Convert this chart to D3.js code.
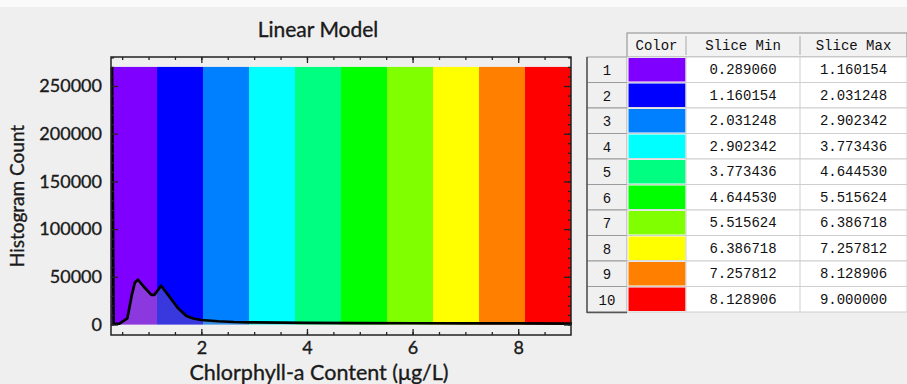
<!DOCTYPE html>
<html>
<head>
<meta charset="utf-8">
<script src="https://cdn.jsdelivr.net/npm/d3@7"></script>
<style>
  body { margin: 0; background: #efefef; }
  svg { display: block; }
  .lbl { font-family: Lato, "Open Sans", sans-serif; fill: #1a1a1a; stroke: #1a1a1a; stroke-width: 0.35; }
  .tbl { font-family: "Liberation Mono", "DejaVu Sans Mono", monospace; font-size: 14px; fill: #111; }
</style>
</head>
<body>
<div id="chart"></div>
<script>
// colour slices (linear model)
var sliceColors = ["#8000ff", "#0000ff", "#0080ff", "#00ffff", "#00ff80",
                   "#00ff00", "#80ff00", "#ffff00", "#ff8000", "#ff0000"];
var sliceMin = [0.289060, 1.160154, 2.031248, 2.902342, 3.773436,
                4.644530, 5.515624, 6.386718, 7.257812, 8.128906];
var sliceMax = [1.160154, 2.031248, 2.902342, 3.773436, 4.644530,
                5.515624, 6.386718, 7.257812, 8.128906, 9.000000];

// histogram curve
var histX = [0.289, 0.32, 0.43, 0.58, 0.66, 0.72, 0.78, 0.91, 1.035, 1.09,
             1.22, 1.38, 1.54, 1.70, 1.83, 1.98, 2.3, 2.6, 2.9, 3.5,
             4.0, 5.0, 6.0, 7.0, 8.0, 9.0];
var histCount = [270000, 500, 1000, 6500, 30000, 43700, 47000, 38500, 31000, 31000,
                 40600, 29000, 17000, 8900, 6300, 4700, 3400, 2600, 2200, 1900,
                 1800, 1500, 1300, 1200, 1100, 1000];

var yMajor = [0, 50000, 100000, 150000, 200000, 250000];
var xMajor = [2, 4, 6, 8];
var bandTop = 270000;

var W = 907, H = 384;
var margin = {top: 57, right: 336, bottom: 49, left: 111},
    width = W - margin.left - margin.right,
    height = H - margin.top - margin.bottom;

var svg = d3.select("#chart").append("svg")
    .attr("width", W)
    .attr("height", H);

svg.append("rect").attr("width", W).attr("height", H).attr("fill", "#efefef");
svg.append("rect").attr("width", W).attr("height", 7).attr("fill", "#fafafa");

var g = svg.append("g")
    .attr("transform", "translate(" + margin.left + "," + margin.top + ")");

var x = d3.scaleLinear().domain([0.28906, 9]).range([0, width]);
var y = d3.scaleLinear().domain([-11000, 280400]).range([height, 0]);

// colour bands
g.selectAll("rect.band")
    .data(sliceColors)
    .enter().append("rect")
    .attr("class", "band")
    .attr("x", function(d, i) { return x(sliceMin[i]); })
    .attr("width", function(d, i) { return x(sliceMax[i]) - x(sliceMin[i]); })
    .attr("y", y(bandTop))
    .attr("height", y(0) - y(bandTop))
    .attr("fill", function(d) { return d; });

var pts = histX.map(function(d, i) { return [d, histCount[i]]; });

g.append("path")
    .datum(pts)
    .attr("fill", "rgba(160,160,160,0.35)")
    .attr("d", d3.area()
        .x(function(d) { return x(d[0]); })
        .y0(y(0))
        .y1(function(d) { return y(d[1]); }));

g.append("path")
    .datum(pts)
    .attr("fill", "none")
    .attr("stroke", "#000")
    .attr("stroke-width", 2.7)
    .attr("stroke-linejoin", "round")
    .attr("d", d3.line()
        .x(function(d) { return x(d[0]) + 1; })
        .y(function(d) { return y(d[1]); }));

// axes with inward ticks
var xMinor = d3.range(0.5, 9, 0.5);
var yMinor = d3.range(0, 280001, 10000);

function noDomain(sel) { sel.select(".domain").remove(); }

g.append("g").attr("transform", "translate(0," + height + ")")
    .call(d3.axisBottom(x).tickValues(xMinor).tickSize(-3).tickFormat(""))
    .call(noDomain);
g.append("g").attr("transform", "translate(0," + height + ")")
    .attr("class", "lbl")
    .call(d3.axisBottom(x).tickValues(xMajor).tickSize(-6).tickPadding(6).tickFormat(d3.format("d")))
    .call(noDomain);
g.append("g")
    .call(d3.axisTop(x).tickValues(xMinor).tickSize(-3).tickFormat(""))
    .call(noDomain);
g.append("g")
    .call(d3.axisTop(x).tickValues(xMajor).tickSize(-6).tickFormat(""))
    .call(noDomain);

g.append("g")
    .call(d3.axisLeft(y).tickValues(yMinor).tickSize(-3).tickFormat(""))
    .call(noDomain);
g.append("g")
    .attr("class", "lbl")
    .call(d3.axisLeft(y).tickValues(yMajor).tickSize(-7).tickPadding(9).tickFormat(d3.format("d")))
    .call(noDomain);
g.append("g").attr("transform", "translate(" + width + ",0)")
    .call(d3.axisRight(y).tickValues(yMinor).tickSize(-3).tickFormat(""))
    .call(noDomain);
g.append("g").attr("transform", "translate(" + width + ",0)")
    .call(d3.axisRight(y).tickValues(yMajor).tickSize(-7).tickFormat(""))
    .call(noDomain);

g.selectAll(".tick line").attr("stroke", "#222").attr("stroke-width", 1.3);
g.selectAll(".tick text")
    .attr("font-family", "Lato, 'Open Sans', sans-serif")
    .attr("font-size", 18)
    .attr("fill", "#1a1a1a")
    .attr("stroke", "#1a1a1a").attr("stroke-width", 0.35);

g.append("rect")
    .attr("width", width).attr("height", height)
    .attr("fill", "none").attr("stroke", "#222").attr("stroke-width", 1.5);

// titles
svg.append("text").attr("class", "lbl")
    .attr("x", 318).attr("y", 37)
    .attr("text-anchor", "middle")
    .attr("font-size", 21)
    .text("Linear Model");

svg.append("text").attr("class", "lbl")
    .attr("x", 319).attr("y", 380)
    .attr("text-anchor", "middle")
    .attr("font-size", 21.5)
    .text("Chlorphyll-a Content (\u03bcg/L)");

svg.append("text").attr("class", "lbl")
    .attr("transform", "translate(24,196) rotate(-90)")
    .attr("text-anchor", "middle")
    .attr("font-size", 19)
    .attr("stroke-width", 0.2)
    .text("Histogram Count");

// slice table
var colX = [587, 627, 686, 800, 907];
var headTop = 33, rowTop = 57;
var row = d3.scaleBand().domain(d3.range(10)).range([rowTop, 312]);
var t = svg.append("g");

// header
t.append("rect").attr("x", colX[1]).attr("y", headTop)
    .attr("width", colX[4] - colX[1]).attr("height", rowTop - headTop)
    .attr("fill", "#f2f2f2").attr("stroke", "#8a8a8a");
[colX[2], colX[3]].forEach(function(cx) {
    t.append("line").attr("x1", cx).attr("x2", cx).attr("y1", headTop + 3).attr("y2", rowTop - 2)
        .attr("stroke", "#a8a8a8");
});
["Color", "Slice Min", "Slice Max"].forEach(function(h, i) {
    t.append("text").attr("class", "tbl")
        .attr("x", (colX[i + 1] + colX[i + 2]) / 2).attr("y", headTop + 17)
        .attr("text-anchor", "middle").text(h);
});

// body
var rows = t.selectAll("g.row").data(sliceColors).enter().append("g").attr("class", "row");
rows.append("rect")
    .attr("x", colX[0]).attr("y", function(d, i) { return row(i); })
    .attr("width", colX[1] - colX[0]).attr("height", row.bandwidth())
    .attr("fill", "#f0f0f0").attr("stroke", "#9a9a9a");
rows.append("rect")
    .attr("x", colX[1]).attr("y", function(d, i) { return row(i); })
    .attr("width", colX[4] - colX[1]).attr("height", row.bandwidth())
    .attr("fill", "#fff").attr("stroke", "#cfcfcf");
rows.append("rect")
    .attr("x", colX[1] + 1.5).attr("y", function(d, i) { return row(i) + 1; })
    .attr("width", colX[2] - colX[1] - 2).attr("height", row.bandwidth() - 2)
    .attr("fill", function(d) { return d; });
[colX[2], colX[3]].forEach(function(cx) {
    t.append("line").attr("x1", cx).attr("x2", cx).attr("y1", rowTop).attr("y2", 312)
        .attr("stroke", "#cfcfcf");
});
rows.append("text").attr("class", "tbl")
    .attr("x", (colX[0] + colX[1]) / 2).attr("y", function(d, i) { return row(i) + 18; })
    .attr("text-anchor", "middle").attr("font-family", "'Noto Sans CJK SC', sans-serif")
    .attr("font-size", 14)
    .text(function(d, i) { return i + 1; });
rows.append("text").attr("class", "tbl")
    .attr("x", (colX[2] + colX[3]) / 2).attr("y", function(d, i) { return row(i) + 17; })
    .attr("text-anchor", "middle")
    .text(function(d, i) { return sliceMin[i].toFixed(6); });
rows.append("text").attr("class", "tbl")
    .attr("x", (colX[3] + colX[4]) / 2).attr("y", function(d, i) { return row(i) + 17; })
    .attr("text-anchor", "middle")
    .text(function(d, i) { return sliceMax[i].toFixed(6); });

t.append("line").attr("x1", colX[0]).attr("x2", colX[0]).attr("y1", rowTop).attr("y2", 313)
    .attr("stroke", "#555").attr("stroke-width", 1.5);
t.append("line").attr("x1", colX[0]).attr("x2", colX[1]).attr("y1", 312.5).attr("y2", 312.5)
    .attr("stroke", "#555").attr("stroke-width", 1.5);
</script>
</body>
</html>
